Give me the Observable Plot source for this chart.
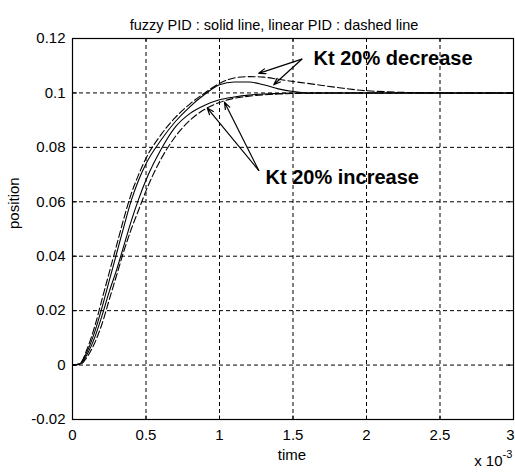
<!DOCTYPE html>
<html>
<head>
<meta charset="utf-8">
<script src="https://cdn.jsdelivr.net/npm/d3@7"></script>
<script src="https://cdn.jsdelivr.net/npm/@observablehq/plot@0.6"></script>
<style>
  html, body { margin: 0; padding: 0; background: #fff; }
  #chart { width: 515px; height: 472px; }
</style>
</head>
<body>
<div id="chart"></div>
<script>
// time axis (in units of 1e-3 s)
const time = [0, 0.05, 0.1, 0.15, 0.2, 0.25, 0.3, 0.35, 0.4, 0.45, 0.5, 0.6, 0.7, 0.8, 0.9, 1.0, 1.1, 1.2, 1.3, 1.4, 1.5, 1.6, 1.8, 2.0, 2.5, 3.0];
// fuzzy PID, Kt 20% decrease (solid)
const fuzzyDecrease = [0, 0.0005, 0.005, 0.012, 0.021, 0.031, 0.041, 0.051, 0.0605, 0.068, 0.074, 0.0825, 0.0895, 0.095, 0.0995, 0.103, 0.104, 0.104, 0.103, 0.1015, 0.1005, 0.1, 0.1, 0.1, 0.1, 0.1];
// linear PID, Kt 20% decrease (dashed)
const linearDecrease = [0, 0.0005, 0.006, 0.014, 0.024, 0.034, 0.044, 0.054, 0.063, 0.070, 0.076, 0.0845, 0.091, 0.096, 0.1, 0.1035, 0.1055, 0.106, 0.1058, 0.105, 0.1042, 0.1035, 0.102, 0.1008, 0.1, 0.1];
// fuzzy PID, Kt 20% increase (solid)
const fuzzyIncrease = [0, 0.0003, 0.004, 0.010, 0.018, 0.027, 0.035, 0.044, 0.053, 0.061, 0.068, 0.079, 0.0875, 0.0925, 0.0955, 0.0975, 0.0985, 0.0992, 0.0996, 0.0998, 0.1, 0.1, 0.1, 0.1, 0.1, 0.1];
// linear PID, Kt 20% increase (dashed)
const linearIncrease = [0, 0.0002, 0.003, 0.008, 0.015, 0.024, 0.033, 0.042, 0.050, 0.057, 0.064, 0.0755, 0.084, 0.090, 0.094, 0.0965, 0.098, 0.0988, 0.0993, 0.0996, 0.0998, 0.0999, 0.1, 0.1, 0.1, 0.1];

const xTicks = [0, 0.5, 1, 1.5, 2, 2.5, 3];
const xTickLabels = ["0", "0.5", "1", "1.5", "2", "2.5", "3"];
const yTicks = [-0.02, 0, 0.02, 0.04, 0.06, 0.08, 0.1, 0.12];
const yTickLabels = ["-0.02", "0", "0.02", "0.04", "0.06", "0.08", "0.1", "0.12"];

const titleText = "fuzzy PID : solid line, linear PID : dashed line";
const xLabel = "time";
const yLabel = "position";
const decreaseLabel = "Kt 20% decrease";
const increaseLabel = "Kt 20% increase";

// annotation anchors (data coordinates)
const decreaseText = {x: 1.64, y: 0.1126};
const increaseText = {x: 1.313, y: 0.0689};
const decreaseArrows = [
  {x1: 1.56, y1: 0.1124, x2: 1.267, y2: 0.1072},
  {x1: 1.56, y1: 0.1124, x2: 1.369, y2: 0.1030}
];
const increaseArrows = [
  {x1: 1.267, y1: 0.0715, x2: 0.916, y2: 0.0945},
  {x1: 1.267, y1: 0.0715, x2: 1.034, y2: 0.0966}
];

const toRows = (vals) => time.map((t, i) => ({t, v: vals[i]}));

const font = "'Liberation Sans', Arial, Helvetica, sans-serif";
const fmtX = new Map(xTicks.map((d, i) => [d, xTickLabels[i]]));
const fmtY = new Map(yTicks.map((d, i) => [d, yTickLabels[i]]));

const lineOpts = {x: "t", y: "v", stroke: "black", strokeWidth: 1.1, curve: "monotone-x"};

const chart = Plot.plot({
  width: 515,
  height: 472,
  marginLeft: 72,
  marginRight: 2,
  marginTop: 38,
  marginBottom: 53,
  style: {fontFamily: font, fontSize: "15px", background: "white", color: "black"},
  x: {domain: [0, 3], ticks: xTicks, tickFormat: d => fmtX.get(d), label: null},
  y: {domain: [-0.02, 0.12], ticks: yTicks, tickFormat: d => fmtY.get(d), label: null},
  marks: [
    Plot.gridX(xTicks.slice(1, -1), {stroke: "black", strokeOpacity: 1, strokeDasharray: "4,3"}),
    Plot.gridY(yTicks.slice(1, -1), {stroke: "black", strokeOpacity: 1, strokeDasharray: "4,3"}),
    Plot.axisX({ticks: xTicks.slice(0, -1), tickFormat: d => fmtX.get(d), tickSize: 0, tickPadding: 10, label: null, fontSize: 15}),
    Plot.axisX({ticks: xTicks.slice(-1), tickFormat: d => fmtX.get(d), tickSize: 0, tickPadding: 10, label: null, fontSize: 15, textAnchor: "end", dx: 1}),
    Plot.axisY({ticks: yTicks, tickFormat: d => fmtY.get(d), tickSize: 0, tickPadding: 7, label: null, fontSize: 15}),
    // inward ticks on all four sides
    Plot.ruleY(yTicks, {x1: 0, x2: 0.034, stroke: "black"}),
    Plot.ruleY(yTicks, {x1: 2.966, x2: 3, stroke: "black"}),
    Plot.ruleX(xTicks, {y1: -0.02, y2: -0.0187, stroke: "black"}),
    Plot.ruleX(xTicks, {y1: 0.1187, y2: 0.12, stroke: "black"}),
    Plot.line(toRows(linearIncrease), {...lineOpts, strokeDasharray: "7,3"}),
    Plot.line(toRows(linearDecrease), {...lineOpts, strokeDasharray: "7,3"}),
    Plot.line(toRows(fuzzyIncrease), lineOpts),
    Plot.line(toRows(fuzzyDecrease), lineOpts),
    Plot.frame({stroke: "black", strokeWidth: 1.2}),
    Plot.arrow(decreaseArrows, {x1: "x1", y1: "y1", x2: "x2", y2: "y2", stroke: "black", strokeWidth: 1.2, headLength: 9, headAngle: 40, bend: 0}),
    Plot.arrow(increaseArrows, {x1: "x1", y1: "y1", x2: "x2", y2: "y2", stroke: "black", strokeWidth: 1.2, headLength: 9, headAngle: 40, bend: 0}),
    Plot.text([decreaseLabel], {x: decreaseText.x, y: decreaseText.y, text: d => d, textAnchor: "start", fontWeight: "bold", fontSize: 20, fill: "black"}),
    Plot.text([increaseLabel], {x: increaseText.x, y: increaseText.y, text: d => d, textAnchor: "start", fontWeight: "bold", fontSize: 20, fill: "black"}),
    Plot.text([titleText], {frameAnchor: "top", text: d => d, dx: -19, dy: -19, fontSize: 14.5, fill: "black"}),
    Plot.text([xLabel], {frameAnchor: "bottom", text: d => d, dx: -1, dy: 40, fontSize: 15, fill: "black"}),
    Plot.text([yLabel], {frameAnchor: "left", text: d => d, rotate: -90, dx: -58, fontSize: 15, fill: "black"}),
    Plot.text(["x 10"], {frameAnchor: "bottom-right", text: d => d, textAnchor: "end", dx: -11, dy: 46, fontSize: 15, fill: "black"}),
    Plot.text(["-3"], {frameAnchor: "bottom-right", text: d => d, textAnchor: "start", dx: -11, dy: 38, fontSize: 11, fill: "black"})
  ]
});
document.getElementById("chart").appendChild(chart);
</script>
</body>
</html>
